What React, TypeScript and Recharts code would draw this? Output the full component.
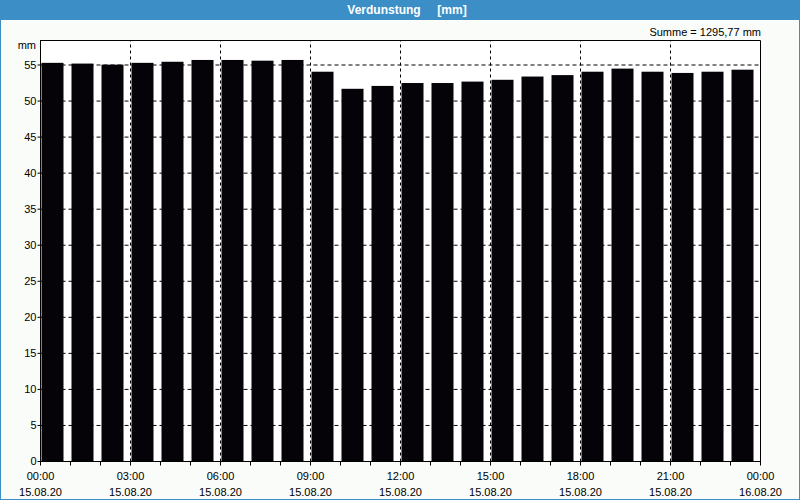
import React from "react"
import { BarChart, Bar, XAxis, YAxis, CartesianGrid, ReferenceLine, ReferenceArea } from "recharts"

// one bar per hour, 15.08.20 00:00 .. 23:00
const hours = [0, 1, 2, 3, 4, 5, 6, 7, 8, 9, 10, 11, 12, 13, 14, 15, 16, 17, 18, 19, 20, 21, 22, 23]
const values = [
  55.3, 55.2, 55.05, 55.3, 55.45, 55.7, 55.7, 55.6, 55.7, 54.07, 51.7, 52.1,
  52.5, 52.5, 52.7, 52.95, 53.4, 53.6, 54.07, 54.5, 54.07, 53.9, 54.07, 54.35,
]

const tickHours = [0, 1, 2, 3, 4, 5, 6, 7, 8, 9, 10, 11, 12, 13, 14, 15, 16, 17, 18, 19, 20, 21, 22, 23, 24]
const gridHours = [3, 6, 9, 12, 15, 18, 21]
const timeLabels = ["00:00", "03:00", "06:00", "09:00", "12:00", "15:00", "18:00", "21:00", "00:00"]
const dateLabels = ["15.08.20", "15.08.20", "15.08.20", "15.08.20", "15.08.20", "15.08.20", "15.08.20", "15.08.20", "16.08.20"]
const yTicks = [0, 5, 10, 15, 20, 25, 30, 35, 40, 45, 50, 55]
const yMax = 58.4

const data = hours.map((h, i) => ({ hour: h, value: values[i] }))

const FONT = '"Liberation Sans", Arial, sans-serif'
const BLUE = "#3c8fc6"

function HourTick({ x, y, payload }: any) {
  if (payload.value % 3 !== 0) return null
  const i = payload.value / 3
  return (
    <g>
      <text x={x} y={y + 13} textAnchor="middle" fontSize={11} fontFamily={FONT} fill="#000">
        {timeLabels[i]}
      </text>
      <text x={x} y={y + 29} textAnchor="middle" fontSize={11} fontFamily={FONT} fill="#000">
        {dateLabels[i]}
      </text>
    </g>
  )
}

// bars start right after the full hour instead of being centred on it
function HourBar(props: any) {
  const { x, y, width, height, fill } = props
  return <rect x={x + width / 2 + 1} y={y} width={width} height={height} fill={fill} />
}

export default function App() {
  return (
    <div
      style={{
        position: "fixed",
        left: 0,
        top: 0,
        width: 800,
        height: 500,
        background: "#f9fcf9",
        boxShadow: `inset 0 0 0 1px ${BLUE}`,
        fontFamily: FONT,
        color: "#000",
      }}
    >
      <div
        style={{
          position: "absolute",
          left: 0,
          top: 0,
          width: 800,
          height: 20,
          lineHeight: "20px",
          background: BLUE,
          color: "#fff",
          fontWeight: "bold",
          fontSize: 12,
          textAlign: "center",
          whiteSpace: "pre",
          paddingLeft: 14,
          boxSizing: "border-box",
        }}
      >
        {"Verdunstung     [mm]"}
      </div>
      <div style={{ position: "absolute", right: 39, top: 26, fontSize: 11, lineHeight: "13px" }}>
        Summe = 1295,77 mm
      </div>
      <div style={{ position: "absolute", left: 0, width: 36, top: 39, fontSize: 11, lineHeight: "13px", textAlign: "right" }}>
        mm
      </div>
      {/* half-pixel shift keeps the 1px lines crisp */}
      <div style={{ position: "absolute", left: 0, top: 0, transform: "translate(0.5px, 0.5px)" }}>
        <BarChart width={800} height={500} data={data} margin={{ top: 40, right: 40, bottom: 0, left: 0 }}>
          <CartesianGrid vertical={false} stroke="#000" strokeDasharray="4 3" fill="#fff" />
          <XAxis
            dataKey="hour"
            type="number"
            domain={[0, 24]}
            ticks={tickHours}
            interval={0}
            height={39}
            tickSize={4}
            tickMargin={1}
            axisLine={{ stroke: "#000" }}
            tickLine={{ stroke: "#000" }}
            tick={<HourTick />}
          />
          <YAxis
            type="number"
            domain={[0, yMax]}
            ticks={yTicks}
            interval={0}
            width={40}
            tickSize={3}
            tickMargin={1}
            axisLine={{ stroke: "#000" }}
            tickLine={{ stroke: "#000" }}
            tick={{ fill: "#000", fontSize: 11, fontFamily: FONT }}
          />
          {gridHours.map((h) => (
            <ReferenceLine key={h} x={h} stroke="#000" strokeDasharray="3 3" />
          ))}
          <Bar dataKey="value" fill="#050308" barSize={22} shape={<HourBar />} isAnimationActive={false} />
          <ReferenceArea x1={0} x2={24} y1={0} y2={yMax} fill="none" stroke="#000" ifOverflow="visible" />
        </BarChart>
      </div>
    </div>
  )
}
